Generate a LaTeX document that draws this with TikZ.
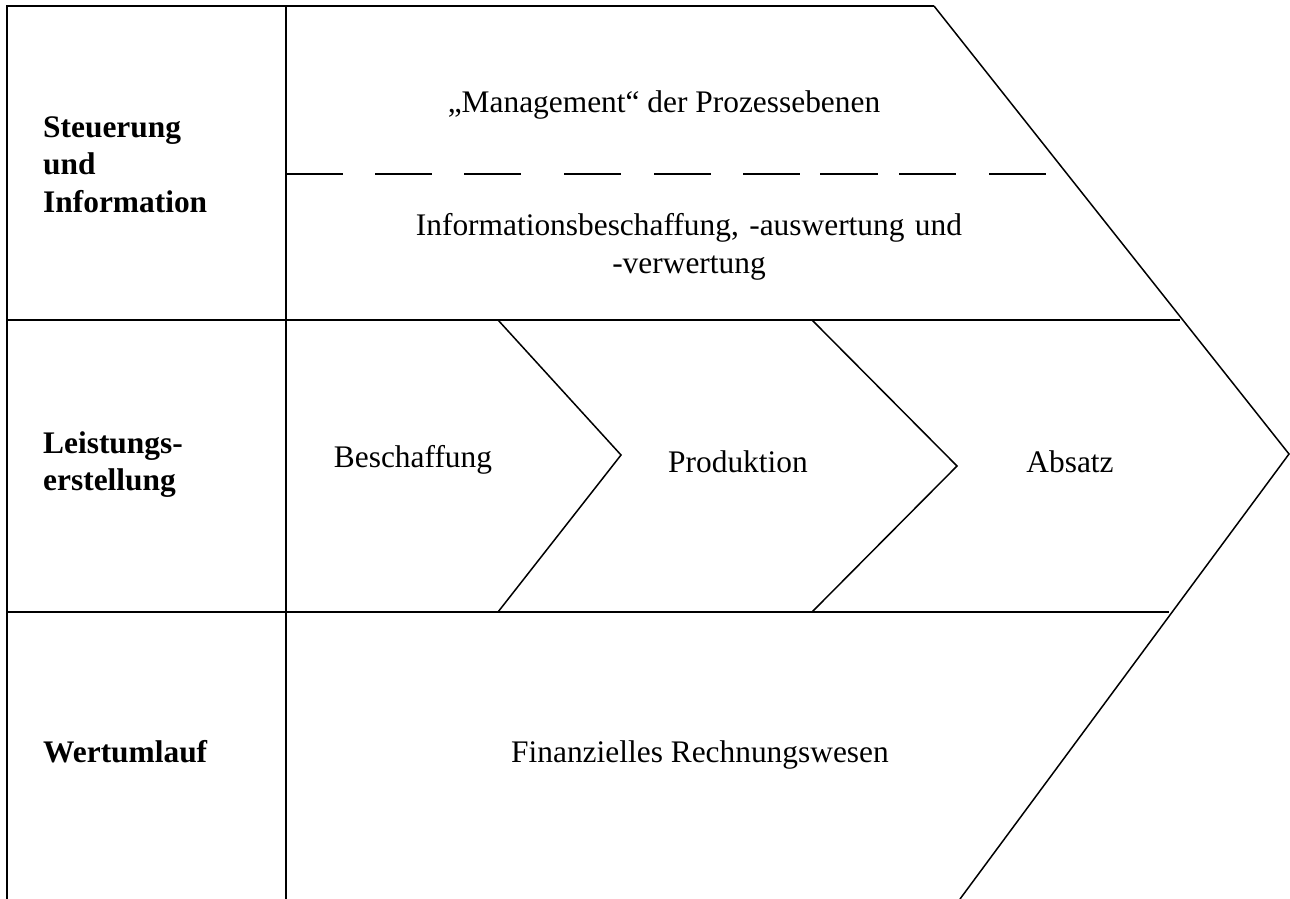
\documentclass[tikz,border=0pt]{standalone}
\usepackage{fontspec}
\setmainfont{Liberation Serif}
\begin{document}
\begin{tikzpicture}[x=1pt,y=-1pt,
  frame/.style={line width=1.9pt,line cap=butt},
  diag/.style={line width=1.5pt,line join=miter},
  txt/.style={inner sep=0pt,font=\fontsize{31.4}{38}\selectfont},
  lbl/.style={inner sep=0pt,font=\fontsize{31.4}{37.5}\selectfont\bfseries,text width=230pt,align=left,anchor=base west}]
\useasboundingbox (0,0) rectangle (1290,899);
% outer frame
\draw[frame] (7,899) -- (7,6) -- (934,6);
\draw[frame] (286,6) -- (286,899);
\draw[frame] (7,320) -- (1180,320);
\draw[frame] (7,612) -- (1169,612);
% big chevron
\coordinate (ctop) at (934,6);
\coordinate (ctip) at (1289,454);
\coordinate (cbot) at (960,899);
\draw[diag] (ctop) -- (ctip) -- (cbot);
% inner chevrons
\coordinate (a1) at (498,320); \coordinate (a2) at (621,455); \coordinate (a3) at (498,612);
\coordinate (b1) at (812,320); \coordinate (b2) at (957,466); \coordinate (b3) at (812,612);
\draw[diag] (a1) -- (a2) -- (a3);
\draw[diag] (b1) -- (b2) -- (b3);
% dashed separator
\foreach \xa/\xb in {286/343,375/432,464/521,564/621,654/711,743/800,820/878,899/956,989/1046}
  \draw[line width=1.5pt] (\xa,174) -- (\xb,174);
% left labels
\node[lbl] (steu) at (43,137) {Steuerung\\und\\Information};
\node[lbl] (leist) at (43,453) {Leistungs-\\erstellung};
\node[lbl] (wert) at (43,762) {Wertumlauf};
% content texts
\node[txt,anchor=base] (mgmt) at (664,112) {„Management“ der Prozessebenen};
\node[txt,anchor=base,text width=600pt,align=center] (info) at (689,235) {Informationsbeschaffung, -auswertung und\\-verwertung};
\node[txt,anchor=base] (besch) at (413,467) {Beschaffung};
\node[txt,anchor=base] (prod) at (738,472) {Produktion};
\node[txt,anchor=base] (abs) at (1070,472) {Absatz};
\node[txt,anchor=base] (fin) at (700,762) {Finanzielles Rechnungswesen};
\end{tikzpicture}
\end{document}
